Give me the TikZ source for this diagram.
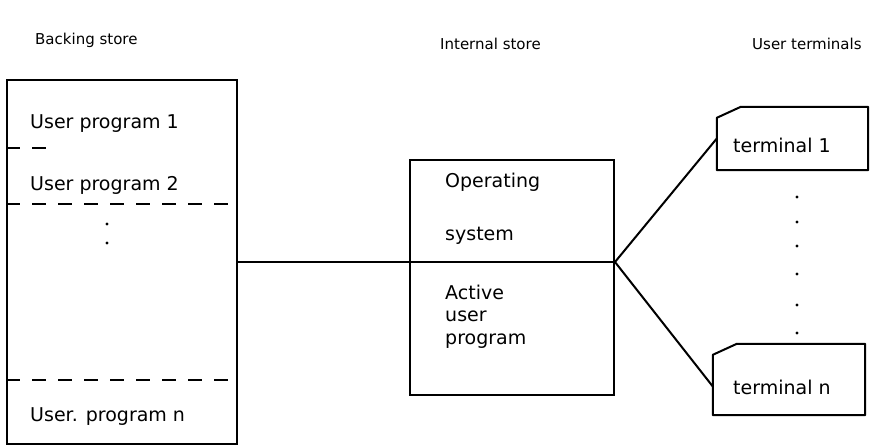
\documentclass[tikz,border=0pt]{standalone}
\usepackage{fontspec}
\setmainfont{DejaVu Sans}
\tikzset{
  ink/.style={line width=2pt, black},
  storebox/.style={ink, draw, rectangle, inner sep=0pt},
  termarea/.style={rectangle, inner sep=0pt},
  heading/.style={font=\fontsize{15}{17}\selectfont, anchor=west, inner sep=0pt},
  label/.style={font=\fontsize{19}{21}\selectfont, anchor=west, inner sep=0pt},
  sep/.style={line width=1.5pt, dash pattern=on 14pt off 12pt},
  dot/.style={fill=black}
}
% outline of a terminal: a box with its top left corner cut off
\newcommand{\termoutline}[1]{%
  \draw[ink, line join=round] ([yshift=-11pt]#1.north west) -- ([xshift=24pt]#1.north west)
    -- (#1.north east) -- (#1.south east) -- (#1.south west) -- cycle;}
\begin{document}
\begin{tikzpicture}[x=1pt, y=-1pt]
\useasboundingbox (0,0) rectangle (870,447);

% column headings
\node[heading] (hback) at (35,40) {Backing store};
\node[heading] (hint) at (440,44) {Internal store};
\node[heading] (hterm) at (752,44) {User terminals};

% backing store column
\node[storebox, minimum width=230pt, minimum height=364pt] (backing) at (122,262) {};
\draw[sep] (backing.west |- 0,148) -- (50,148);
\draw[sep] (backing.west |- 0,204) -- (backing.east |- 0,204);
\draw[sep] (backing.west |- 0,380) -- (backing.east |- 0,380);
\node[label] (up1) at (30,124) {User program 1};
\node[label] (up2) at (30,185) {User program 2};
\node[label] (upn) at (30,417) {User. program n};
\fill[dot] (107,224) circle (1.7pt);
\fill[dot] (107,243) circle (1.7pt);

% internal store
\node[storebox, minimum width=204pt, minimum height=235pt] (internal) at (512,277.5) {};
\coordinate (hub) at (internal.east |- backing.east);
\node[label] (os1) at (445,182) {Operating};
\node[label] (os2) at (445,236) {system};
\node[label] (ap1) at (445,292) {Active};
\node[label] (ap2) at (445,316) {user};
\node[label] (ap3) at (445,341) {program};

% terminals
\node[termarea, minimum width=151pt, minimum height=63pt] (t1) at (792.5,138.5) {};
\node[termarea, minimum width=152pt, minimum height=71pt] (tn) at (789,379.5) {};
\termoutline{t1}
\termoutline{tn}
\node[label] (t1l) at (733,145) {terminal 1};
\node[label] (tnl) at (733,387) {terminal n};
\foreach \yy in {197,222,246,274,305,333} \fill[dot] (797,\yy) circle (1.7pt);

% connections
\draw[ink] (backing.east) -- (hub);
\draw[ink] (hub) -- (t1.west);
\draw[ink] (hub) -- ([yshift=-7pt]tn.west);
\end{tikzpicture}
\end{document}
